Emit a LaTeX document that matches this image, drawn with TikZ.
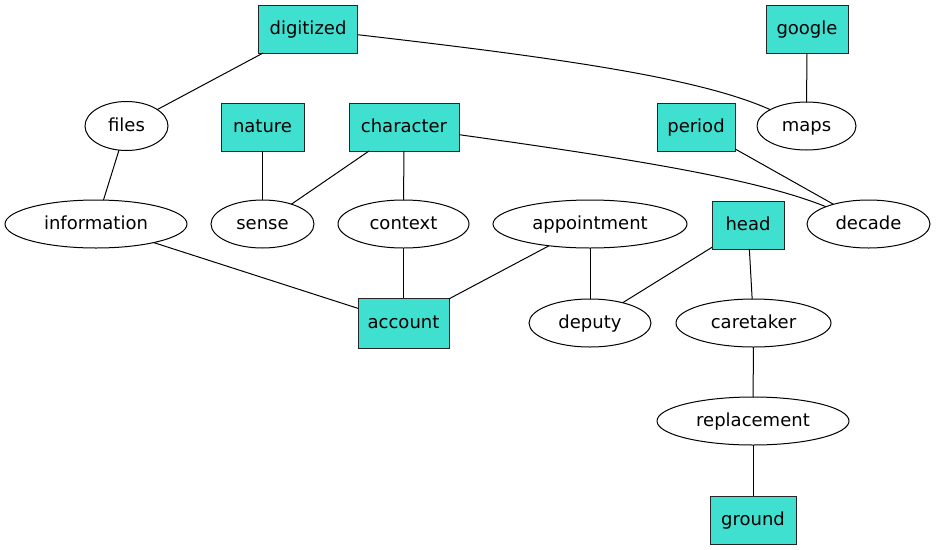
\documentclass[tikz,border=0pt]{standalone}
\usepackage{fontspec}
\setmainfont{DejaVu Sans}
\usetikzlibrary{shapes.geometric}
\definecolor{turq}{RGB}{64,224,208}

\begin{document}
\begin{tikzpicture}[x=1pt,y=-1pt,line width=1pt,
  every node/.style={inner sep=0pt, outer sep=0pt, font=\fontsize{18}{20}\selectfont, minimum height=48, text height=14, text depth=3},
  box/.style={draw=black!85, fill=turq, rectangle},
  oval/.style={draw=black, fill=white, ellipse}]
\useasboundingbox (0,0) rectangle (936,549);
% boxes
\node[box, minimum width=99] (digitized) at (308,29) {digitized};
\node[box, minimum width=82] (google) at (807,29) {google};
\node[box, minimum width=83] (nature) at (262.5,127) {nature};
\node[box, minimum width=110] (character) at (404,127) {character};
\node[box, minimum width=78] (period) at (696,127) {period};
\node[box, minimum width=72] (head) at (748,225) {head};
\node[box, minimum width=91, minimum height=50] (account) at (403.5,323) {account};
\node[box, minimum width=86] (ground) at (753,520) {ground};
% ellipses
\node[oval, minimum width=83, minimum height=49] (files) at (126.5,126) {files};
\node[oval, minimum width=99] (maps) at (806.5,126) {maps};
\node[oval, minimum width=182] (information) at (96,224) {information};
\node[oval, minimum width=103] (sense) at (262.5,224) {sense};
\node[oval, minimum width=131] (context) at (403.5,224) {context};
\node[oval, minimum width=194] (appointment) at (590,224) {appointment};
\node[oval, minimum width=123] (decade) at (868.5,224) {decade};
\node[oval, minimum width=122] (deputy) at (590,323) {deputy};
\node[oval, minimum width=155] (caretaker) at (753.5,323) {caretaker};
\node[oval, minimum width=192] (replacement) at (753,421) {replacement};
% edges
\draw (digitized) .. controls (560,58) and (700,78) .. (maps);
\draw (digitized) -- (files);
\draw (google) -- (maps);
\draw (files) -- (information);
\draw (nature) -- (sense);
\draw (character) -- (sense);
\draw (character) -- (context);
\draw (character) .. controls (640,160) and (760,180) .. (decade);
\draw (period) -- (decade);
\draw (information) -- (account);
\draw (context) -- (account);
\draw (appointment) -- (account);
\draw (appointment) -- (deputy);
\draw (head) -- (deputy);
\draw (head) -- (caretaker);
\draw (caretaker) -- (replacement);
\draw (replacement) -- (ground);
\end{tikzpicture}
\end{document}
